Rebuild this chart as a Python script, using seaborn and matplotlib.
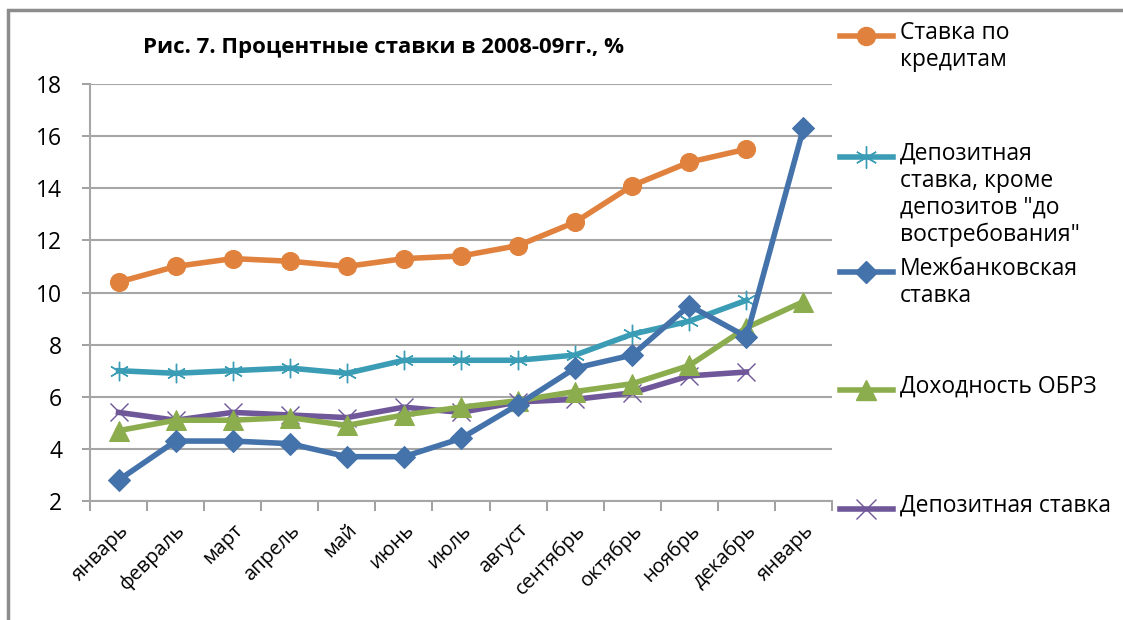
import numpy as np
import pandas as pd
import matplotlib
matplotlib.use("Agg")
import matplotlib.pyplot as plt
import seaborn as sns
from matplotlib.lines import Line2D
from matplotlib.patches import Rectangle

months = ["январь", "февраль", "март", "апрель", "май", "июнь", "июль",
          "август", "сентябрь", "октябрь", "ноябрь", "декабрь", "январь"]

credit_rate = [10.4, 11.0, 11.3, 11.2, 11.0, 11.3, 11.4, 11.8, 12.7, 14.1, 15.0, 15.5, np.nan]
deposit_excl_demand = [7.0, 6.9, 7.0, 7.1, 6.9, 7.4, 7.4, 7.4, 7.6, 8.4, 8.9, 9.7, np.nan]
interbank_rate = [2.8, 4.3, 4.3, 4.2, 3.7, 3.7, 4.4, 5.7, 7.1, 7.6, 9.5, 8.3, 16.3]
obrz_yield = [4.7, 5.1, 5.1, 5.2, 4.9, 5.3, 5.6, 5.85, 6.2, 6.5, 7.2, 8.65, 9.65]
deposit_rate = [5.4, 5.1, 5.4, 5.3, 5.2, 5.6, 5.4, 5.8, 5.9, 6.15, 6.8, 6.95, np.nan]

labels = ["Ставка по\nкредитам",
          "Депозитная\nставка, кроме\nдепозитов \"до\nвостребования\"",
          "Межбанковская\nставка",
          "Доходность ОБРЗ",
          "Депозитная ставка"]
series = [credit_rate, deposit_excl_demand, interbank_rate, obrz_yield, deposit_rate]
colors = ["#E0823D", "#3B9DB5", "#4472AA", "#8CAD4E", "#6F579A"]
markers = ["o", (6, 2, 0), "D", "^", "x"]
msizes = [13, 14, 11, 14, 13]
zorders = [5, 4, 6, 3, 2]

plt.rcParams["font.family"] = ["Open Sans", "DejaVu Sans"]

fig = plt.figure(figsize=(11.23, 6.20), dpi=100)
ax = fig.add_axes([90/1123, 1-501/620, (832-90)/1123, (501-84)/620])

x = np.arange(len(months))
for vals, lab, c, m, ms, z in zip(series, labels, colors, markers, msizes, zorders):
    df = pd.DataFrame({"x": x, "y": vals}).dropna()
    mkw = dict(markeredgecolor=c, markerfacecolor=c)
    if m in ("x",) or isinstance(m, tuple):
        mkw = dict(markeredgecolor=c, markeredgewidth=1.0)
    sns.lineplot(data=df, x="x", y="y", ax=ax, color=c, linewidth=4,
                 marker=m, markersize=ms, zorder=z, **mkw)

ax.set_xlim(-0.5, len(months) - 0.5)
ax.set_ylim(2, 18)
ax.set_yticks(range(2, 19, 2))
ax.set_xticks(x)
ax.set_xticklabels(months, rotation=45, ha="right", rotation_mode="anchor", fontsize=14.5)
ax.tick_params(axis="x", length=0, pad=14)
ax.set_xticks(np.arange(-0.5, len(months), 1), minor=True)
ax.tick_params(axis="x", which="minor", length=7, color="#999999", width=1.3)
ax.tick_params(axis="y", length=6, color="#999999", width=1.3, labelsize=16.5, pad=14)
ax.set_xlabel("")
ax.set_ylabel("")
ax.grid(axis="y", color="#A6A6A6", linewidth=1.5, zorder=0)
ax.set_axisbelow(True)
for s in ["top", "right"]:
    ax.spines[s].set_visible(False)
for s in ["left", "bottom"]:
    ax.spines[s].set_color("#A6A6A6")
    ax.spines[s].set_linewidth(1.5)

fig.text(143/1123, 1-48/620, "Рис. 7. Процентные ставки в 2008-09гг., %",
         fontsize=16, fontweight="bold", va="center", ha="left")

# legend entries drawn manually
ys = [36, 157, 272, 390, 509]
for y, lab, c, m, ms in zip(ys, labels, colors, markers, msizes):
    yf = 1 - y/620
    fig.add_artist(Line2D([840/1123, 893/1123], [yf, yf], transform=fig.transFigure,
                          color=c, linewidth=4))
    if m == "x" or isinstance(m, tuple):
        fig.add_artist(Line2D([866/1123], [yf], transform=fig.transFigure, marker=m,
                              markersize=ms + 2, markeredgecolor=c, markeredgewidth=1.0,
                              linestyle="none"))
    else:
        fig.add_artist(Line2D([866/1123], [yf], transform=fig.transFigure, marker=m,
                              markersize=ms, markeredgecolor=c, markerfacecolor=c,
                              linestyle="none"))
    fig.text(900/1123, yf + 15/620, lab, fontsize=16.5, va="top", ha="left",
             transform=fig.transFigure, linespacing=1.15)

fig.add_artist(Rectangle((8/1123, -0.1), 1.2, 1 - 10/620 + 0.1, transform=fig.transFigure,
                         fill=False, edgecolor="#8C8C8C", linewidth=2.5))

fig.savefig("out.png", dpi=100)
